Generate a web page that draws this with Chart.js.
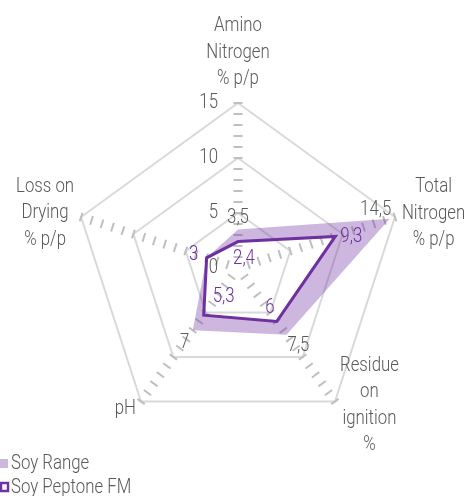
<!DOCTYPE html>
<html>
<head>
<meta charset="utf-8">
<script src="https://cdn.jsdelivr.net/npm/chart.js@4/dist/chart.umd.min.js"></script>
<style>
  body { margin: 0; background: #fff; }
  #wrap { width: 467px; height: 496px; position: relative; }
</style>
</head>
<body>
<div id="wrap"><canvas id="chart"></canvas></div>
<script>
const axisLabels = [
  ['Amino', 'Nitrogen', '% p/p'],
  ['Total', 'Nitrogen', '% p/p'],
  ['Residue', 'on', 'ignition', '%'],
  ['pH'],
  ['Loss on', 'Drying', '% p/p']
];
const rangeMax = [3.5, 14.5, 7.5, 7, 3];
const rangeMin = [2.4, 9.3, 6, 5.3, 3];
const peptone = [2.4, 9.3, 6, 5.3, 3];
const rangeLabelShown = [true, true, true, true, false];
const tickValues = [0, 5, 10, 15];

const FONT = "300 21px Roboto, 'Liberation Sans', sans-serif";
const SX = 0.8; // squeeze text to look like a condensed face
const GRAY = '#595959';
const PURPLE = '#7030a0';
const FILL = 'rgba(112, 48, 160, 0.35)';

// label offsets from the point (styling only)
const peptoneOffsets = [[6, 17], [16, 0], [-7, -14], [20, -18], [-13, -3]];
const rangeOffsets = [[0, -12], [-14, -9], [12, 11], [-8, 12], [0, 0]];

const fmt = v => String(v).replace('.', ',');

function txt(ctx, t, x, y, align) {
  ctx.save();
  ctx.translate(x, y);
  ctx.scale(SX, 1);
  ctx.textAlign = align;
  ctx.fillText(t, 0, 0);
  ctx.restore();
}

const decor = {
  id: 'decor',
  beforeDatasetsDraw(chart) {
    const s = chart.scales.r;
    const ctx = chart.ctx;
    ctx.save();
    ctx.strokeStyle = '#bfbfbf';
    ctx.lineWidth = 2;
    for (let i = 0; i < axisLabels.length; i++) {
      for (let v = 1; v <= 15; v++) {
        const p = s.getPointPosition(i, s.getDistanceFromCenterForValue(v));
        let dx = p.x - s.xCenter, dy = p.y - s.yCenter;
        const len = Math.hypot(dx, dy);
        dx /= len; dy /= len;
        ctx.beginPath();
        ctx.moveTo(p.x + dy * 4.5, p.y - dx * 4.5);
        ctx.lineTo(p.x - dy * 4.5, p.y + dx * 4.5);
        ctx.stroke();
      }
    }
    ctx.restore();
  },
  afterDatasetsDraw(chart) {
    const s = chart.scales.r;
    const ctx = chart.ctx;
    ctx.save();
    ctx.textBaseline = 'middle';
    ctx.font = FONT;

    // tick labels
    ctx.fillStyle = GRAY;
    tickValues.forEach(v => {
      const p = s.getPointPosition(0, s.getDistanceFromCenterForValue(v));
      txt(ctx, String(v), p.x - 20, p.y, 'right');
    });

    // axis labels
    const lh = 26.5;
    axisLabels.forEach((lines, i) => {
      const p = s.getPointPosition(i, s.drawingArea);
      const w = Math.max(...lines.map(t => ctx.measureText(t).width)) * SX;
      const h = (lines.length - 1) * lh;
      let cx, cy;
      if (i === 0) { cx = p.x; cy = p.y - 24 - h / 2; }
      else if (i === 1) { cx = p.x + 7 + w / 2; cy = p.y - 3.5; }
      else if (i === 2) { cx = p.x + 5 + w / 2; cy = p.y + 4; }
      else if (i === 3) { cx = p.x - 5 - w / 2; cy = p.y + 7; }
      else { cx = p.x - 7 - w / 2; cy = p.y - 4; }
      lines.forEach((t, k) => txt(ctx, t, cx, cy - h / 2 + k * lh, 'center'));
    });

    // data labels
    const maxPts = chart.getDatasetMeta(0).data;
    rangeMax.forEach((v, i) => {
      if (!rangeLabelShown[i]) return;
      ctx.fillStyle = GRAY;
      txt(ctx, fmt(v), maxPts[i].x + rangeOffsets[i][0], maxPts[i].y + rangeOffsets[i][1], 'center');
    });
    const pepPts = chart.getDatasetMeta(2).data;
    peptone.forEach((v, i) => {
      ctx.fillStyle = PURPLE;
      txt(ctx, fmt(v), pepPts[i].x + peptoneOffsets[i][0], pepPts[i].y + peptoneOffsets[i][1], 'center');
    });

    // legend
    ctx.fillStyle = FILL;
    ctx.fillRect(-1, 459, 9, 9);
    ctx.fillStyle = GRAY;
    txt(ctx, 'Soy Range', 11, 464, 'left');
    ctx.strokeStyle = PURPLE;
    ctx.lineWidth = 2.5;
    ctx.strokeRect(1, 483, 7, 8);
    txt(ctx, 'Soy Peptone FM', 11, 488, 'left');
    ctx.restore();
  }
};

new Chart(document.getElementById('chart'), {
  type: 'radar',
  data: {
    labels: axisLabels,
    datasets: [
      {
        label: 'Soy Range',
        data: rangeMax,
        fill: '+1',
        backgroundColor: FILL,
        borderWidth: 0,
        pointRadius: 0
      },
      {
        label: 'Soy Range min',
        data: rangeMin,
        fill: false,
        borderWidth: 0,
        pointRadius: 0
      },
      {
        label: 'Soy Peptone FM',
        data: peptone,
        fill: false,
        borderColor: PURPLE,
        borderWidth: 3,
        pointRadius: 0
      }
    ]
  },
  options: {
    responsive: true,
    maintainAspectRatio: false,
    animation: false,
    layout: { padding: { left: 73, right: 64, top: 103, bottom: 63 } },
    plugins: {
      legend: { display: false },
      tooltip: { enabled: false }
    },
    elements: { line: { tension: 0 } },
    scales: {
      r: {
        min: 0,
        max: 15,
        ticks: { stepSize: 5, display: false },
        pointLabels: { display: false },
        angleLines: { display: false },
        grid: { color: '#d9d9d9', lineWidth: 2 }
      }
    }
  },
  plugins: [decor]
});
</script>
</body>
</html>
